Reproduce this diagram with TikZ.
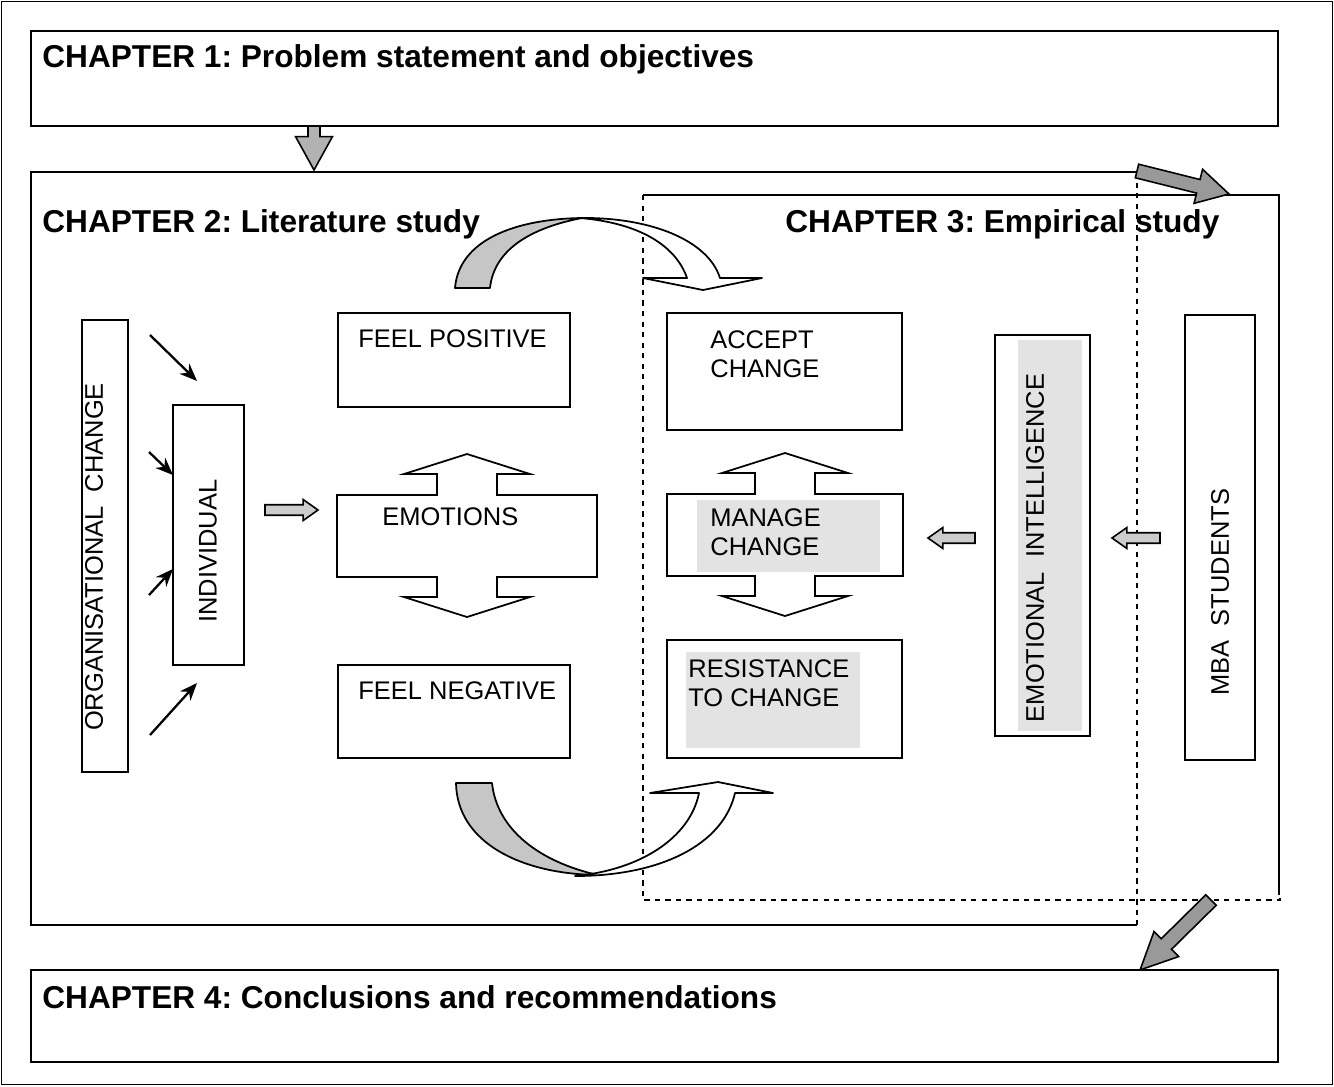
\documentclass[tikz,border=0pt]{standalone}
\usepackage{fontspec}
\setmainfont{Liberation Sans}
\usetikzlibrary{calc,arrows.meta}
\frenchspacing

% block arrow: [fill] {tail} {tip} {shaft half} {head half} {head length}
\newcommand{\blockarrow}[6][gray!55]{%
  \path[draw=black, fill=#1, line width=0.9pt, line join=miter]
    let \p1=(#2), \p2=(#3),
        \n1={atan2(\y2-\y1,\x2-\x1)}, \n2={veclen(\x2-\x1,\y2-\y1)} in
    [shift={(\p1)}, rotate=\n1]
    (0pt,#4) -- ({\n2-#6},#4) -- ({\n2-#6},#5) -- ({\n2*1pt},0pt)
    -- ({\n2-#6},-#5) -- ({\n2-#6},-#4) -- (0pt,-#4) -- cycle;}

\begin{document}
\begin{tikzpicture}[x=0.02cm, y=-0.02cm,
    box/.style={draw, line width=1pt, rectangle, inner sep=0pt},
    title/.style={font=\fontsize{18}{20}\selectfont\bfseries, anchor=base west, inner sep=0pt},
    lbl/.style={font=\fontsize{14.5}{17}\selectfont, anchor=base west, inner sep=0pt},
    vlbl/.style={font=\fontsize{14.5}{17}\selectfont, rotate=90, inner sep=0pt},
    shade/.style={fill=gray!22, draw=none},
    thinarrow/.style={-{Stealth[length=10pt, width=8pt]}, line width=1.3pt},
    curved/.style={draw, line width=1pt, line join=round},
    pics/updown/.style={code={
      \draw[line width=1pt, fill=white] (-#1,-41) -- (-30,-41) -- (-30,-62) -- (-63,-62) -- (0,-82)
        -- (63,-62) -- (30,-62) -- (30,-41) -- (#1,-41) -- (#1,41) -- (30,41) -- (30,61)
        -- (63,61) -- (0,81) -- (-63,61) -- (-30,61) -- (-30,41) -- (-#1,41) -- cycle;}}]
\useasboundingbox (0,0) rectangle (1334,1086);
\draw[line width=0.6pt] (1.5,1.5) rectangle (1332.5,1084.5);

% chapter 1 and 4
\node[box, minimum width=24.94cm, minimum height=1.9cm] (ch1) at (654.5,78.5) {};
\node[title] (ch1title) at (42,67) {CHAPTER 1: Problem statement and objectives};
\node[box, minimum width=24.94cm, minimum height=1.84cm] (ch4) at (654.5,1016) {};
\node[title] (ch4title) at (42,1008) {CHAPTER 4: Conclusions and recommendations};

% chapter 2 frame
\coordinate (ch2nw) at (31,172);
\coordinate (ch2ne) at (1137,172);
\coordinate (ch2se) at (1137,925);
\draw[line width=1pt] (ch2ne) -- (ch2nw) -- (31,925) -- (ch2se);
\draw[line width=1pt, dashed] (ch2ne) -- (ch2se);
\node[title] (ch2title) at (42,232) {CHAPTER 2: Literature study};

% chapter 3 frame
\coordinate (ch3nw) at (643,195);
\coordinate (ch3ne) at (1279,195);
\coordinate (ch3se) at (1280,900);
\draw[line width=1pt] (ch3nw) -- (ch3ne) -- (1279,895);
\draw[line width=1pt, dashed] (ch3nw) -- (643,900) -- (ch3se) -- (1280,895);
\node[title] (ch3title) at (785,232) {CHAPTER 3: Empirical study};

% arrows between chapters
\coordinate (d1) at (314,126);
\coordinate (d2) at (314,170);
\blockarrow[gray!60]{d1}{d2}{3.4pt}{10.5pt}{19pt}
\coordinate (r1) at (1137,171);
\coordinate (r2) at (1229,194);
\blockarrow[gray!80]{r1}{r2}{4pt}{10pt}{18pt}
\coordinate (l1) at (1211,900);
\coordinate (l2) at (1140,970);
\blockarrow[gray!80]{l1}{l2}{4.2pt}{10pt}{21pt}

% left column
\node[box, minimum width=0.92cm, minimum height=9.04cm] (orgchange) at (105,546) {};
\node[vlbl] (orgtext) at (94,557) {ORGANISATIONAL\ \ CHANGE};
\node[box, minimum width=1.42cm, minimum height=5.2cm] (indiv) at (208.5,535) {};
\node[vlbl] (indivtext) at (208,551) {INDIVIDUAL};

\coordinate (a1) at (150,335);  \coordinate (b1) at (197,381);
\coordinate (a2) at (149,452);  \coordinate (b2) at (173,475);
\coordinate (a3) at (149,595);  \coordinate (b3) at (173,569);
\coordinate (a4) at (150,735);  \coordinate (b4) at (197,683);
\foreach \i in {1,...,4}
  \draw[thinarrow] (a\i) -- (b\i);

\coordinate (g1) at (265,510);
\coordinate (g2) at (318,510);
\blockarrow[gray!40]{g1}{g2}{3pt}{6pt}{8.5pt}

% emotions column
\node[box, minimum width=4.64cm, minimum height=1.88cm] (feelpos) at (454,360) {};
\node[lbl] (feelpostext) at (358,347) {FEEL POSITIVE};
\pic at (467,536) {updown=130};
\node[lbl] (emotext) at (382,525) {EMOTIONS};
\node[box, minimum width=4.64cm, minimum height=1.86cm] (feelneg) at (454,711.5) {};
\node[lbl] (feelnegtext) at (358,699) {FEEL NEGATIVE};

% change column
\node[box, minimum width=4.7cm, minimum height=2.34cm] (accept) at (784.5,371.5) {};
\node[lbl, align=left] (accepttext) at (710,377) {ACCEPT\\[-1pt]CHANGE};
\pic at (785,535) {updown=118};
\path[shade] (697,500) rectangle (880,572);
\node[lbl, align=left] (managetext) at (710,555) {MANAGE\\[-1pt]CHANGE};
\node[box, minimum width=4.7cm, minimum height=2.36cm] (resist) at (784.5,699) {};
\path[shade] (686,652) rectangle (860,748);
\node[lbl, align=left] (resisttext) at (688,706) {RESISTANCE\\[-1pt]TO CHANGE};

% right columns
\coordinate (e1) at (975,538);
\coordinate (e2) at (928,538);
\blockarrow[gray!40]{e1}{e2}{3pt}{6pt}{8.5pt}
\node[box, minimum width=1.9cm, minimum height=8.02cm] (emoint) at (1042.5,535.5) {};
\path[shade] (1018,340) rectangle (1082,731);
\node[vlbl] (emointtext) at (1035,548) {EMOTIONAL\ \ INTELLIGENCE};
\coordinate (m1) at (1160,538);
\coordinate (m2) at (1112,538);
\blockarrow[gray!40]{m1}{m2}{3pt}{6pt}{8.5pt}
\node[box, minimum width=1.4cm, minimum height=8.9cm] (mba) at (1220,537.5) {};
\node[vlbl] (mbatext) at (1220,592) {MBA\ \ STUDENTS};

% curved arrows
\draw[curved, fill=gray!45] (455,288) .. controls (459,240) and (515,219) .. (582,218)
  .. controls (530,228) and (494,250) .. (490,288) -- cycle;
\draw[curved, fill=white] (580,218) .. controls (650,217) and (708,240) .. (720,278)
  -- (762,278) -- (703,290) -- (643,278) -- (687,278)
  .. controls (676,246) and (640,223) .. (580,218) -- cycle;
\draw[curved, fill=gray!45] (456,783) -- (492,783) .. controls (497,830) and (540,862) .. (598,875)
  .. controls (520,874) and (457,842) .. (456,783) -- cycle;
\draw[curved, fill=white] (575,876) .. controls (660,876) and (723,845) .. (735,793)
  -- (773,793) -- (718,782) -- (650,793) -- (699,793)
  .. controls (690,838) and (640,870) .. (575,876) -- cycle;
\end{tikzpicture}
\end{document}
